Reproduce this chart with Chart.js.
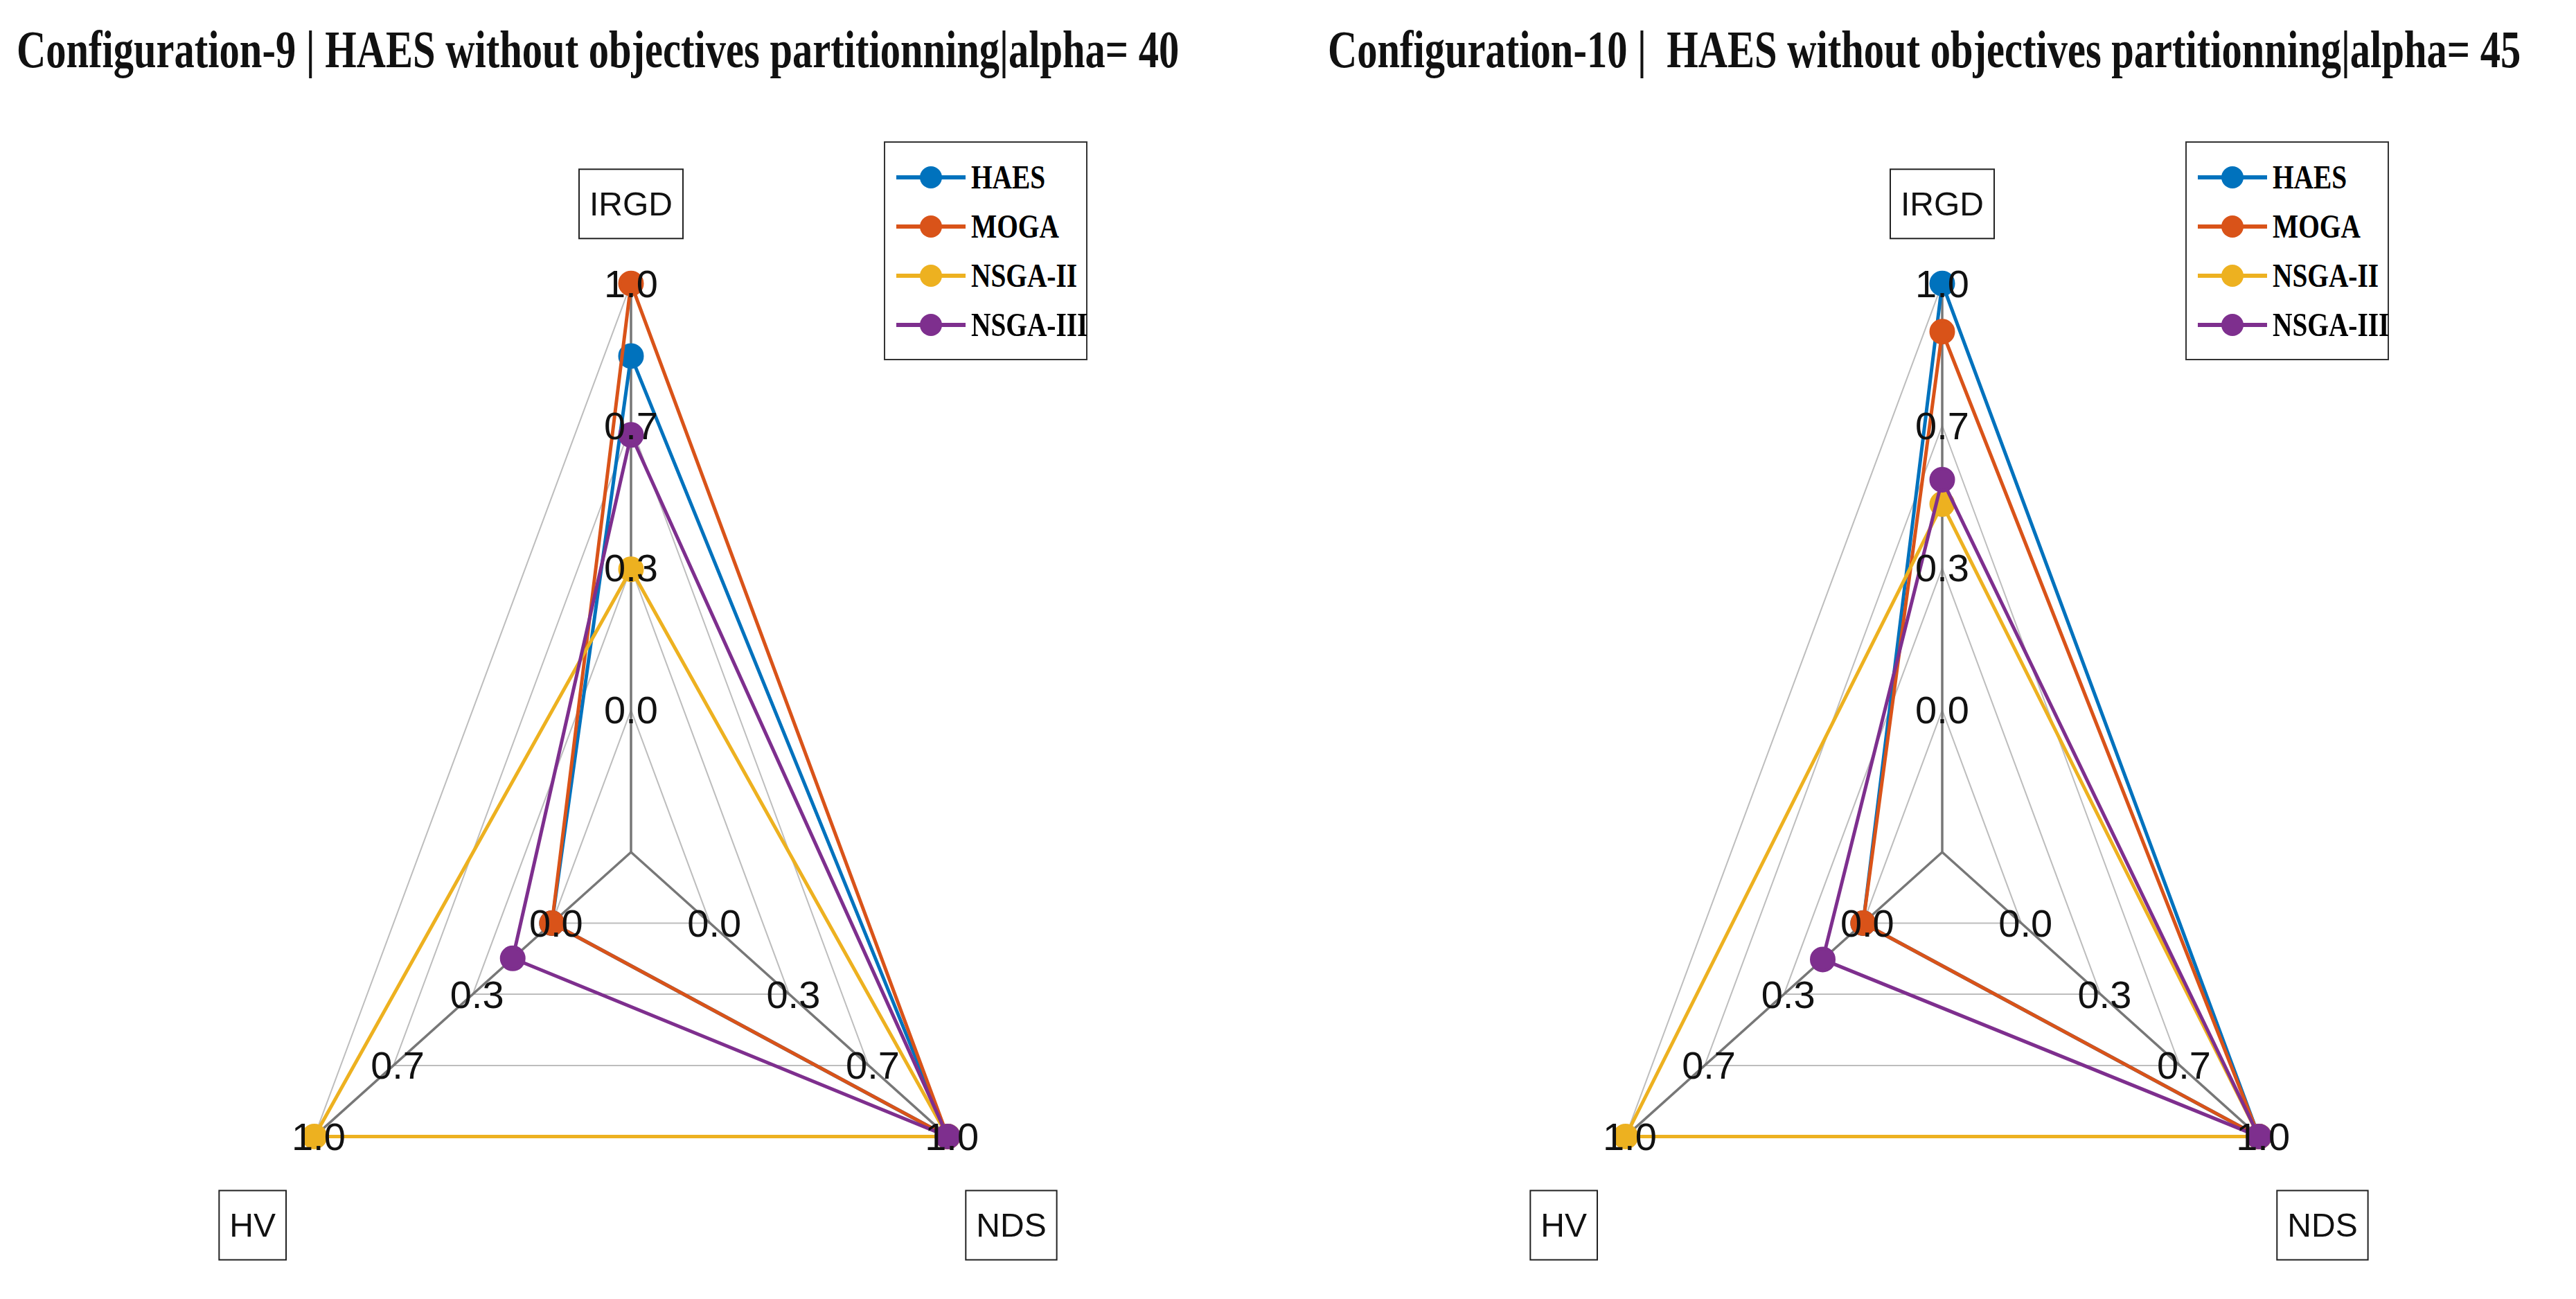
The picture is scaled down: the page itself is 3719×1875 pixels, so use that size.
<!DOCTYPE html>
<html><head><meta charset="utf-8">
<script src="https://cdn.jsdelivr.net/npm/chart.js@4/dist/chart.umd.min.js"></script>
<style>
body{margin:0;width:3719px;height:1875px;background:#fff;position:relative;overflow:hidden}
.t{position:absolute;top:28px;font:bold 76px "Liberation Serif",serif;white-space:nowrap;color:#111;transform:scaleX(0.77);transform-origin:left}
.c{position:absolute}
.lg{position:absolute;background:#fff;border:2px solid #333;padding:14px 16px;font:bold 48px "Liberation Serif",serif}
.r{display:flex;align-items:center;height:71px}
.r span{display:inline-block;transform:scaleX(0.82);transform-origin:left;width:150px;white-space:nowrap}
.ln{width:100px;height:6px;position:relative;margin-right:8px}
.dt{position:absolute;left:34px;top:-13px;width:32px;height:32px;border-radius:50%}
</style></head><body>
<div class="t" style="left:24px">Configuration-9 | HAES without objectives partitionning|alpha= 40</div>
<div class="t" style="left:1917px">Configuration-10 |&nbsp; HAES without objectives partitionning|alpha= 45</div>
<div class="c" style="left:151px;top:183px;width:1520px;height:1659px"><canvas id="c1"></canvas></div>
<div class="c" style="left:2044px;top:183px;width:1520px;height:1659px"><canvas id="c2"></canvas></div>
<div class="lg" id="l1" style="left:1276px;top:204px"></div>
<div class="lg" id="l2" style="left:3155px;top:204px"></div>
<script>
const axesNames=["IRGD","HV","NDS"];
const seriesNames=["HAES","MOGA","NSGA-II","NSGA-III"];
const colors=["#0072BD","#D95319","#EDB120","#7E2F8E"];
const tickLabels=["0.0","0.3","0.7","1.0"];
const tickValues=[0,0.333,0.667,1];
const conf9=[[0.83,0,1],[1,0,1],[0.33,1,1],[0.645,0.165,1]];
const conf10=[[1,0,1],[0.887,0,1],[0.483,1,1],[0.54,0.17,1]];
const rMin=-0.333,rMax=1;
const ang=[90,210,330].map(a=>a*Math.PI/180);
function xy(i,v){const r=(v-rMin)/(rMax-rMin);return {x:Math.cos(ang[i])*r,y:Math.sin(ang[i])*r};}
const boxPos=[{x:0,y:1.14},{x:-1.035,y:-0.656},{x:1.04,y:-0.656}];
const radarPlugin={id:'rad',
beforeDatasetsDraw(ch){const c=ch.ctx,X=ch.scales.x,Y=ch.scales.y;const P=(p)=>[X.getPixelForValue(p.x),Y.getPixelForValue(p.y)];
 c.save();c.strokeStyle='#bdbdbd';c.lineWidth=2;
 tickValues.forEach(v=>{c.beginPath();[0,1,2,0].forEach((i,k)=>{const q=P(xy(i,v));k?c.lineTo(q[0],q[1]):c.moveTo(q[0],q[1]);});c.stroke();});
 c.strokeStyle='#777';c.lineWidth=3.5;
 [0,1,2].forEach(i=>{const a=P(xy(i,rMin)),b=P(xy(i,1));c.beginPath();c.moveTo(a[0],a[1]);c.lineTo(b[0],b[1]);c.stroke();});
 c.restore();},
afterDatasetsDraw(ch){const c=ch.ctx,X=ch.scales.x,Y=ch.scales.y;const P=(p)=>[X.getPixelForValue(p.x),Y.getPixelForValue(p.y)];
 c.save();c.fillStyle='#111';c.font='56px "Liberation Sans",Arial';c.textAlign='center';c.textBaseline='middle';
 [0,1,2].forEach(i=>tickValues.forEach((v,k)=>{const q=P(xy(i,v));c.fillText(tickLabels[k],q[0]+(i==0?0:6),q[1]+4);}));
 c.font='48px "Liberation Sans",Arial';
 axesNames.forEach((n,i)=>{const q=P(boxPos[i]);const w=c.measureText(n).width+30,h=100;c.fillStyle='#fff';c.fillRect(q[0]-w/2,q[1]-h/2,w,h);c.strokeStyle='#222';c.lineWidth=2;c.strokeRect(q[0]-w/2,q[1]-h/2,w,h);c.fillStyle='#111';c.fillText(n,q[0],q[1]+3);});
 c.restore();}};
function make(id,data){
 new Chart(document.getElementById(id),{type:'scatter',
 data:{datasets:data.map((vals,s)=>({label:seriesNames[s],order:3-s,data:[0,1,2,0].map(i=>xy(i,vals[i])),showLine:true,borderColor:colors[s],backgroundColor:colors[s],borderWidth:5,pointRadius:[16,16,16,0],pointHoverRadius:0}))},
 options:{responsive:true,maintainAspectRatio:false,animation:false,layout:{padding:0},
  plugins:{legend:{display:false},tooltip:{enabled:false}},
  scales:{x:{display:false,min:-1.4,max:1.4},y:{display:false,min:-0.72,max:1.25}}},
 plugins:[radarPlugin]});}
make('c1',conf9);make('c2',conf10);
['l1','l2'].forEach(id=>{document.getElementById(id).innerHTML=seriesNames.map((n,s)=>`<div class="r"><div class="ln" style="background:${colors[s]}"><div class="dt" style="background:${colors[s]}"></div></div><span>${n}</span></div>`).join('');});
</script></body></html>
